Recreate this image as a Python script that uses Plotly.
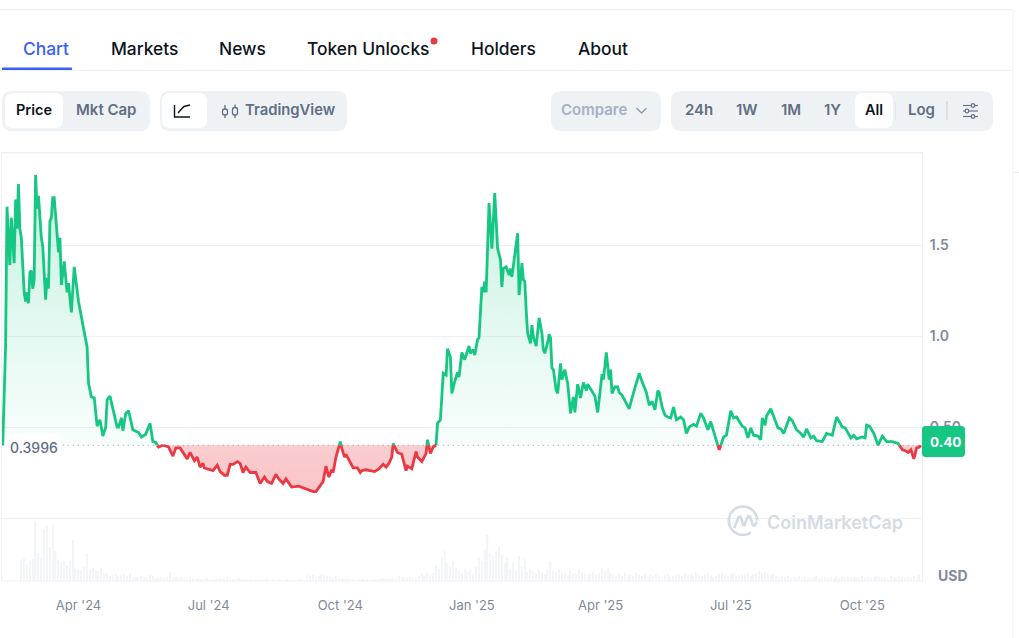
import math
import numpy as np
import pandas as pd
import plotly.graph_objects as go

W, H = 1019, 638

# Price history: days since the first listing date, and USD price on that day.
start_date = pd.Timestamp("2024-02-08")
base_price = 0.3996
last_price_label = "0.40"

day_offset = [
    0, 2, 3, 5, 6, 8, 9, 10, 11, 12, 13, 15, 16, 17, 18, 19, 20, 21, 22, 23,
    24, 25, 27, 28, 30, 31, 32, 33, 34, 35, 36, 38, 39, 40, 41, 43, 45, 46, 48, 50,
    52, 53, 58, 59, 60, 62, 64, 66, 68, 70, 72, 73, 75, 77, 80, 81, 83, 84, 86, 88,
    91, 95, 97, 100, 103, 105, 107, 108, 109, 112, 116, 119, 121, 124, 129, 131, 134, 136, 138, 140,
    141, 147, 150, 152, 155, 157, 159, 161, 164, 166, 168, 170, 173, 177, 180, 183, 185, 188, 191, 193,
    196, 198, 202, 207, 212, 217, 219, 222, 224, 226, 228, 230, 231, 233, 236, 237, 239, 240, 245, 248,
    250, 251, 254, 258, 260, 263, 266, 268, 270, 272, 273, 275, 276, 279, 282, 283, 286, 289, 290, 293,
    296, 297, 299, 301, 303, 304, 306, 308, 310, 311, 313, 314, 316, 318, 319, 321, 323, 326, 327, 329,
    330, 332, 333, 335, 336, 337, 338, 340, 342, 344, 346, 348, 349, 350, 352, 354, 355, 356, 358, 360,
    361, 363, 364, 365, 366, 367, 369, 370, 371, 373, 375, 377, 378, 379, 381, 382, 383, 384, 385, 387,
    388, 390, 391, 393, 395, 397, 399, 400, 402, 404, 406, 408, 409, 412, 414, 416, 419, 420, 422, 424,
    425, 426, 428, 430, 431, 433, 438, 440, 445, 447, 450, 452, 454, 456, 458, 459, 461, 463, 465, 467,
    469, 471, 474, 476, 478, 480, 483, 485, 488, 490, 493, 495, 498, 501, 504, 506, 509, 511, 513, 517,
    519, 521, 523, 525, 528, 530, 531, 533, 534, 537, 540, 542, 544, 546, 550, 552, 555, 558, 560, 562,
    565, 567, 569, 573, 576, 580, 583, 587, 589, 593, 595, 597, 601, 603, 604, 606, 609, 612, 615, 618,
    622, 626, 629, 631, 633, 635, 637, 639, 641, 642,
]

price = [
    .40, .94, 1.71, 1.39, 1.65, 1.40, 1.75, 1.59, 1.835, 1.59, 1.54, 1.24, 1.19, 1.24, 1.18, 1.35, 1.36, 1.26, 1.31, 1.885,
    1.70, 1.77, 1.54, 1.49, 1.20, 1.32, 1.26, 1.63, 1.65, 1.76, 1.76, 1.54, 1.46, 1.54, 1.28, 1.41, 1.24, 1.29, 1.13, 1.38,
    1.24, 1.19, .98, .94, .74, .665, .66, .505, .54, .45, .50, .65, .67, .60, .50, .50, .55, .48, .575, .59,
    .485, .47, .445, .46, .52, .42, .415, .40, .39, .40, .39, .34, .385, .385, .325, .36, .315, .335, .28, .30,
    .275, .26, .29, .255, .235, .235, .295, .295, .31, .30, .25, .28, .25, .25, .19, .225, .20, .19, .24, .215,
    .19, .215, .17, .175, .16, .145, .145, .175, .20, .285, .225, .265, .25, .335, .42, .385, .335, .35, .275, .275,
    .25, .26, .265, .26, .255, .27, .295, .28, .30, .335, .41, .375, .36, .35, .26, .285, .27, .365, .335, .31,
    .355, .43, .355, .39, .40, .52, .54, .795, .785, .93, .885, .685, .75, .80, .775, .91, .87, .945, .905, .925,
    .895, .98, .99, 1.27, 1.24, 1.30, 1.24, 1.73, 1.48, 1.785, 1.48, 1.42, 1.27, 1.37, 1.38, 1.335, 1.37, 1.325, 1.445, 1.565,
    1.225, 1.40, 1.31, 1.30, 1.14, 1.015, .96, 1.06, .995, .945, 1.10, 1.015, .925, .905, .965, 1.01, .99, .825, .815, .70,
    .685, .85, .76, .815, .74, .575, .665, .58, .735, .66, .745, .70, .735, .70, .67, .58, .79, .76, .91, .76,
    .815, .685, .72, .72, .69, .675, .60, .66, .795, .75, .69, .62, .64, .595, .70, .69, .61, .565, .555, .55,
    .61, .54, .555, .54, .465, .50, .515, .505, .575, .55, .485, .53, .445, .375, .445, .455, .59, .55, .555, .505,
    .495, .44, .495, .455, .45, .43, .55, .51, .56, .60, .54, .495, .49, .465, .55, .535, .485, .465, .445, .49,
    .44, .45, .425, .42, .465, .455, .555, .50, .495, .44, .455, .435, .445, .44, .51, .505, .465, .40, .45, .42,
    .42, .41, .375, .37, .36, .375, .325, .385, .39, .40,
]

# Traded volume, one bar every second day starting on day 13.
volume_first_day = 13
volume = [
    21, 23, 17, 20, 22, 60, 28, 24, 52, 56,
    34, 57, 30, 21, 19, 20, 16, 20, 41, 13,
    12, 11, 14, 28, 12, 13, 11, 10, 12, 8,
    8, 5, 6, 7, 5, 6, 7, 5, 7, 4,
    4, 4, 5, 4, 4, 6, 5, 3, 3, 4,
    3, 4, 9, 4, 4, 3, 4, 3, 3, 4,
    3, 2, 3, 2, 2, 3, 2, 2, 3, 3,
    2, 3, 4, 3, 2, 2, 3, 2, 2, 2,
    2, 1, 2, 1, 2, 2, 3, 1, 2, 1,
    2, 1, 1, 2, 1, 1, 1, 2, 1, 1,
    6, 5, 6, 4, 5, 7, 6, 5, 4, 3,
    5, 3, 2, 2, 3, 2, 2, 1, 2, 2,
    2, 2, 1, 2, 2, 2, 3, 2, 2, 3,
    3, 3, 5, 4, 3, 3, 4, 3, 3, 5,
    7, 5, 9, 6, 8, 16, 12, 23, 30, 18,
    14, 20, 13, 10, 8, 12, 9, 11, 7, 14,
    24, 20, 31, 46, 28, 25, 30, 34, 26, 18,
    24, 12, 18, 10, 25, 14, 22, 9, 12, 10,
    8, 11, 9, 7, 12, 20, 10, 9, 11, 8,
    9, 6, 10, 8, 7, 11, 9, 7, 6, 8,
    9, 7, 8, 13, 10, 13, 8, 6, 5, 7,
    5, 8, 6, 7, 5, 9, 6, 5, 7, 4,
    6, 5, 7, 5, 4, 6, 7, 4, 5, 6,
    7, 5, 8, 6, 7, 5, 9, 6, 5, 7,
    8, 6, 4, 5, 7, 8, 6, 5, 7, 8,
    5, 6, 7, 6, 8, 5, 7, 8, 10, 8,
    9, 7, 6, 7, 5, 4, 5, 4, 5, 3,
    4, 3, 5, 3, 4, 3, 3, 4, 5, 3,
    3, 4, 3, 4, 3, 5, 3, 4, 3, 4,
    3, 4, 3, 3, 5, 3, 4, 3, 4, 5,
    4, 3, 4, 3, 5, 4, 3, 5, 4, 3,
    4, 3, 5, 4, 6,
]

x_tick_dates = ["2024-04-01", "2024-07-01", "2024-10-01", "2025-01-01", "2025-04-01", "2025-07-01", "2025-10-01"]
x_tick_text = ["Apr '24", "Jul '24", "Oct '24", "Jan '25", "Apr '25", "Jul '25", "Oct '25"]
y_tick_values = [0, 0.5, 1.0, 1.5]
y_tick_text = ["", "0.50", "1.0", "1.5"]

tabs = [("Chart", 46, "#3861fb"), ("Markets", 144, "#0d1421"), ("News", 242.5, "#0d1421"),
        ("Token Unlocks", 368, "#0d1421"), ("Holders", 503.5, "#0d1421"), ("About", 602.5, "#0d1421")]
range_buttons = [("24h", 699), ("1W", 747), ("1M", 791), ("1Y", 832.5), ("Log", 921)]

GREEN, RED = "#16c784", "#ea3943"
PANEL, RULE = "#eff2f5", "#eff2f5"
MUTED, LABEL = "#616e85", "#808a9d"
FONT = "Inter"


def fx(px):
    return px / W


def fy(py):
    return 1 - py / H


def poly_path(points, close=False):
    cmds = [("M" if i == 0 else "L") + f"{fx(x):.5f},{fy(y):.5f}" for i, (x, y) in enumerate(points)]
    return " ".join(cmds) + (" Z" if close else "")


def round_rect(x0, y0, x1, y1, r):
    def p(x, y):
        return f"{fx(x):.5f},{fy(y):.5f}"
    return (f"M{p(x0 + r, y0)} L{p(x1 - r, y0)} Q{p(x1, y0)} {p(x1, y0 + r)} L{p(x1, y1 - r)} "
            f"Q{p(x1, y1)} {p(x1 - r, y1)} L{p(x0 + r, y1)} Q{p(x0, y1)} {p(x0, y1 - r)} "
            f"L{p(x0, y0 + r)} Q{p(x0, y0)} {p(x0 + r, y0)} Z")


def box(x0, y0, x1, y1, r, fill):
    return dict(type="path", path=round_rect(x0, y0, x1, y1, r), xref="paper", yref="paper",
                fillcolor=fill, line=dict(width=0), layer="above")


def stroke(points, color, width=1.5):
    return dict(type="path", path=poly_path(points), xref="paper", yref="paper",
                line=dict(color=color, width=width), layer="above")


def circle(cx, cy, r, color, fill=None, width=1.2):
    return dict(type="circle", xref="paper", yref="paper", x0=fx(cx - r), x1=fx(cx + r),
                y0=fy(cy + r), y1=fy(cy - r), fillcolor=fill or "rgba(0,0,0,0)",
                line=dict(color=color, width=width if fill is None else 0), layer="above")


def label(px, py, text, size=14, color=MUTED, weight=500, anchor="center"):
    return dict(x=fx(px), y=fy(py), xref="paper", yref="paper", text=text, showarrow=False,
                xanchor=anchor, yanchor="middle", font=dict(family=FONT, size=size, color=color, weight=weight))


def with_crossings(days, values, level):
    # Adds a vertex wherever the line passes the base price so both colours meet exactly.
    out_d, out_v = [days[0]], [values[0]]
    for d0, v0, d1, v1 in zip(days, values, days[1:], values[1:]):
        if (v0 - level) * (v1 - level) < 0:
            out_d.append(d0 + (level - v0) / (v1 - v0) * (d1 - d0))
            out_v.append(level)
        out_d.append(d1)
        out_v.append(v1)
    return np.array(out_d, dtype=float), np.array(out_v, dtype=float)


dense_days, dense_price = with_crossings(day_offset, price, base_price)
dates = start_date + pd.to_timedelta(dense_days, unit="D")
upper = np.maximum(dense_price, base_price)
lower = np.minimum(dense_price, base_price)
green_line = [v if v >= base_price else None for v in dense_price]
red_line = [v if v <= base_price else None for v in dense_price]

volume_dates = start_date + pd.to_timedelta(volume_first_day + 2 * np.arange(len(volume)), unit="D")

fig = go.Figure()

fig.add_trace(go.Bar(x=volume_dates, y=volume, yaxis="y2", width=86400000 * 0.95,
                     marker=dict(color="#f4f5f8", line=dict(width=0)), hoverinfo="skip"))

flat = np.full(len(dates), base_price)
fig.add_trace(go.Scatter(x=dates, y=flat, mode="lines", line=dict(width=0), hoverinfo="skip"))
fig.add_trace(go.Scatter(x=dates, y=upper, mode="lines", line=dict(width=0), fill="tonexty", hoverinfo="skip",
                         fillgradient=dict(type="vertical", start=1.9, stop=base_price,
                                           colorscale=[[0, "rgba(22,199,132,0.24)"], [1, "rgba(22,199,132,0.03)"]])))
fig.add_trace(go.Scatter(x=dates, y=flat, mode="lines", line=dict(width=0), hoverinfo="skip"))
fig.add_trace(go.Scatter(x=dates, y=lower, mode="lines", line=dict(width=0), fill="tonexty", hoverinfo="skip",
                         fillgradient=dict(type="vertical", start=base_price, stop=0.14,
                                           colorscale=[[0, "rgba(234,57,67,0.25)"], [1, "rgba(234,57,67,0.30)"]])))

# Dotted reference line at the opening price.
fig.add_trace(go.Scatter(x=[dates[0], dates[-1]], y=[base_price, base_price], mode="lines",
                         line=dict(color="#8b93a3", width=1, dash="1px,4px"), hoverinfo="skip"))

fig.add_trace(go.Scatter(x=dates, y=green_line, mode="lines", connectgaps=False,
                         line=dict(color=GREEN, width=2.8, shape="linear"), hoverinfo="skip"))
fig.add_trace(go.Scatter(x=dates, y=red_line, mode="lines", connectgaps=False,
                         line=dict(color=RED, width=2.8, shape="linear"), hoverinfo="skip"))

shapes = [
    # page rules
    stroke([(0, 9.5), (1013, 9.5)], RULE, 1),
    stroke([(1013, 9.5), (1013, 638)], RULE, 1),
    stroke([(1013, 172.5), (1019, 172.5)], RULE, 1),
    stroke([(0, 70.5), (1013, 70.5)], RULE, 1),
    box(2, 67.5, 72, 70, 0.5, "#3861fb"),
    circle(434, 41, 3.5, RED, fill=RED),
    # chart frame
    stroke([(0.5, 152.8), (923, 152.8)], "#eceff3", 1.5),
    stroke([(1.5, 152), (1.5, 581)], RULE, 1),
    stroke([(922.5, 152), (922.5, 581)], RULE, 1),
    stroke([(1.5, 581), (922.5, 581)], RULE, 1),
    # price / market cap switch
    box(2, 91, 150, 131, 10, PANEL),
    box(5, 93, 63, 128, 8, "#ffffff"),
    # chart type switch
    box(160, 91, 347, 131, 10, PANEL),
    box(162, 93, 207, 128, 8, "#ffffff"),
    stroke([(174.5, 105), (174.5, 117), (190, 117)], "#0d1421", 1.4),
    stroke([(178, 113), (181, 109.5), (184, 106.5), (190, 105)], "#0d1421", 1.4),
    # candlestick glyph
    stroke([(225, 105), (225, 109)], MUTED, 1.3),
    stroke([(225, 115), (225, 118)], MUTED, 1.3),
    stroke([(235, 104.5), (235, 107.5)], MUTED, 1.3),
    stroke([(235, 115), (235, 118)], MUTED, 1.3),
    dict(type="path", path=round_rect(222.5, 109, 227.5, 115, 2.2), xref="paper", yref="paper",
         fillcolor="rgba(0,0,0,0)", line=dict(color=MUTED, width=1.3), layer="above"),
    dict(type="path", path=round_rect(232.5, 107.5, 237.5, 115, 2.2), xref="paper", yref="paper",
         fillcolor="rgba(0,0,0,0)", line=dict(color=MUTED, width=1.3), layer="above"),
    # compare dropdown
    box(551, 91, 661, 131, 10, PANEL),
    stroke([(636.5, 108), (641.5, 113), (646.5, 108)], "#8f9bb0", 1.4),
    # time range switch
    box(671, 91, 993, 131, 10, PANEL),
    box(855, 93, 893, 128, 8, "#ffffff"),
    stroke([(895.5, 102), (895.5, 120)], "#e3e6eb", 1.2),
    stroke([(947, 101), (947, 120)], "#cfd4dc", 1.2),
    # settings sliders
    stroke([(963, 105.5), (978, 105.5)], MUTED, 1.1),
    stroke([(963, 111), (978, 111)], MUTED, 1.1),
    stroke([(963, 116.5), (978, 116.5)], MUTED, 1.1),
    circle(973, 105.5, 1.8, MUTED, fill=PANEL),
    circle(967, 111, 1.8, MUTED, fill=PANEL),
    circle(973, 116.5, 1.8, MUTED, fill=PANEL),
    circle(973, 105.5, 1.8, MUTED),
    circle(967, 111, 1.8, MUTED),
    circle(973, 116.5, 1.8, MUTED),
    # opening price tag and last price tag
    box(6, 434, 62, 462, 6, "rgba(255,255,255,0.92)"),
    box(922, 426, 965, 457, 3.5, GREEN),
]

# CoinMarketCap mark: open ring running into the wave.
ring = [(743 + 14.2 * math.cos(math.radians(a)), 520.7 - 14.2 * math.sin(math.radians(a)))
        for a in range(0, 312, 8)]
wave = [(734.3, 528), (736.5, 522.5), (738.5, 517.5), (740.3, 516.5), (741.6, 519), (743, 525), (744.5, 525),
        (746.5, 519.5), (748.5, 516), (750, 516.5), (751.5, 521), (752.7, 524.5), (754.5, 525.5), (757.3, 521.7)]
shapes.append(stroke(ring, "#d5dbe5", 2.6))
shapes.append(stroke(wave, "#d5dbe5", 2.6))

annotations = [label(x, 48.5, t, size=17.4, color=c, weight=500) for t, x, c in tabs]
annotations += [
    label(34, 109.5, "Price", size=14.5, color="#0d1421", weight=600),
    label(105.5, 109.5, "Mkt Cap", size=15, weight=600),
    label(290, 109.5, "TradingView", size=14.8, weight=600),
    label(593.5, 109.5, "Compare", size=15, color="#a6b0c3", weight=600),
    label(874, 109.5, "All", size=14.5, color="#0d1421", weight=600),
    label(33.5, 447, f"{base_price:.4f}", size=14, weight=500),
    label(945, 442, last_price_label, size=13.5, color="#ffffff", weight=700),
    label(953, 575.5, "USD", size=14, color=LABEL, weight=700),
    label(835, 522, "CoinMarketCap", size=18, color="#d5dbe5", weight=600),
]
annotations += [label(x, 109.5, t, size=15, weight=600) for t, x in range_buttons]

fig.update_layout(
    width=W, height=H, margin=dict(l=0, r=0, t=0, b=0), autosize=False,
    paper_bgcolor="#ffffff", plot_bgcolor="#ffffff", showlegend=False, hovermode=False,
    font=dict(family=FONT),
    shapes=shapes, annotations=annotations,
    xaxis=dict(domain=[2 / W, 923 / W], type="date", range=["2024-02-07 12:00", "2025-11-12 10:00"],
               tickmode="array", tickvals=x_tick_dates, ticktext=x_tick_text,
               tickfont=dict(family=FONT, size=13, color=LABEL, weight=400),
               showgrid=False, zeroline=False, showline=False, ticks="outside", ticklen=12,
               tickcolor="rgba(0,0,0,0)", automargin=False),
    yaxis=dict(domain=[(H - 581) / H, (H - 152) / H], range=[-0.346, 2.011], side="right",
               tickmode="array", tickvals=y_tick_values, ticktext=y_tick_text,
               tickfont=dict(family=FONT, size=14, color=LABEL, weight=600),
               showgrid=True, gridcolor=RULE, gridwidth=1, zeroline=False, showline=False,
               ticks="outside", ticklen=3, tickcolor="rgba(0,0,0,0)", automargin=False),
    yaxis2=dict(overlaying="y", range=[0, 429], visible=False, side="right"),
)

fig.write_html("out.html", config=dict(displayModeBar=False))
